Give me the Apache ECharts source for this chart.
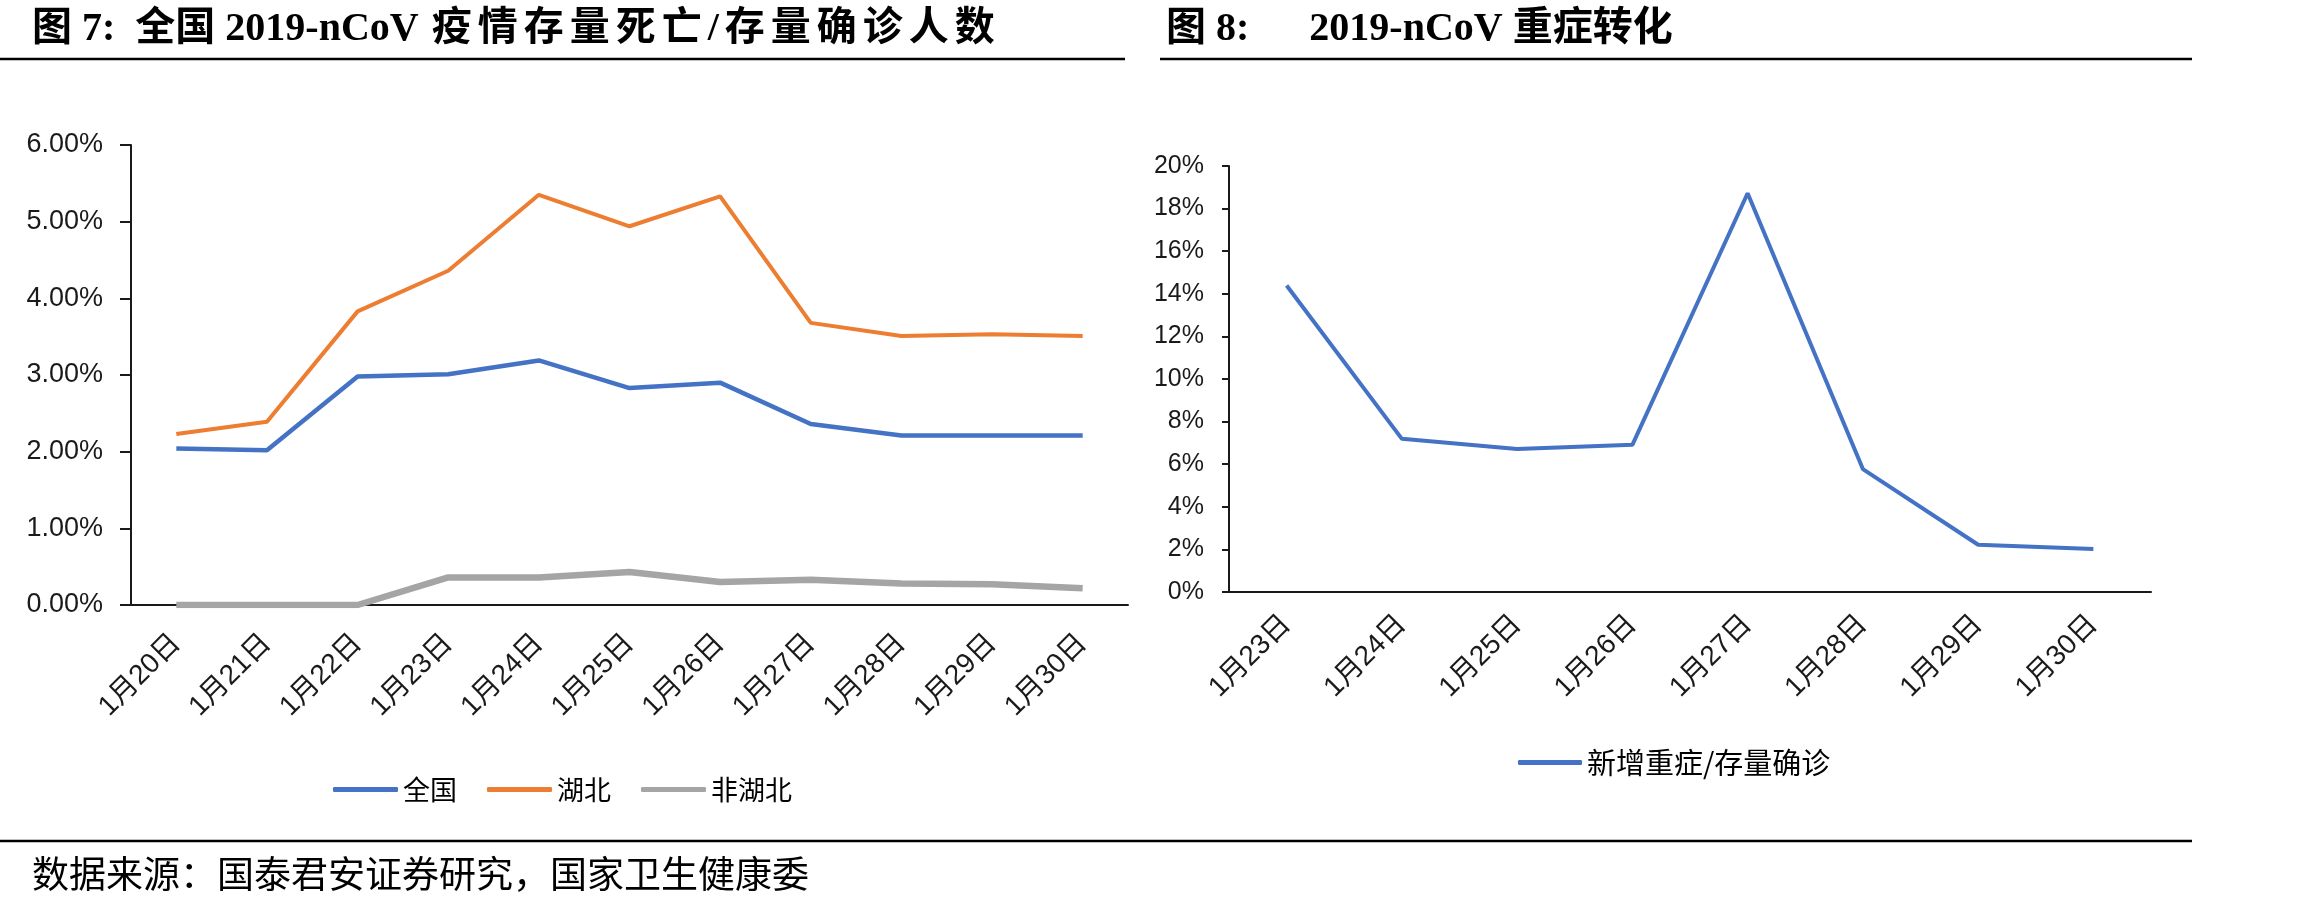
<!DOCTYPE html>
<html>
<head>
<meta charset="utf-8">
<script src="https://cdn.jsdelivr.net/npm/echarts@6/dist/echarts.min.js"></script>
<style>
  html, body { margin: 0; padding: 0; background: #fff; }
  #chart { width: 2314px; height: 908px; }
</style>
</head>
<body>
<div id="chart"></div>
<script>
// 图7 数据（%）
const leftDays = ['1月20日', '1月21日', '1月22日', '1月23日', '1月24日', '1月25日', '1月26日', '1月27日', '1月28日', '1月29日', '1月30日']
const nationRate = [2.04, 2.02, 2.98, 3.01, 3.19, 2.83, 2.90, 2.36, 2.21, 2.21, 2.21]
const hubeiRate = [2.23, 2.39, 3.83, 4.36, 5.35, 4.94, 5.33, 3.68, 3.51, 3.53, 3.51]
const outsideRate = [0, 0, 0, 0.36, 0.36, 0.43, 0.30, 0.33, 0.28, 0.27, 0.22]
const leftTicks = [0, 1, 2, 3, 4, 5, 6]

// 图8 数据（%）
const rightDays = ['1月23日', '1月24日', '1月25日', '1月26日', '1月27日', '1月28日', '1月29日', '1月30日']
const severeRate = [14.39, 7.19, 6.71, 6.91, 18.72, 5.77, 2.22, 2.02]
const rightTicks = [0, 2, 4, 6, 8, 10, 12, 14, 16, 18, 20]

const latin = '"Liberation Sans", "Noto Sans CJK SC", sans-serif'
const cjk = '"Noto Sans CJK SC", sans-serif'
const titleFont = '"Liberation Serif", "Noto Sans CJK SC", serif'
const ink = '#1a1a1a'

// 标题1后半段字距略宽，逐字加一点 padding
const spaced = s => s.split('').map(c => '{c|' + c + '}').join('')

const chart = echarts.init(document.getElementById('chart'))

function axisX(gridIndex, data, tickLen, margin) {
  return {
    type: 'category',
    gridIndex,
    data,
    axisLine: { lineStyle: { color: ink, width: 2 } },
    axisTick: { length: tickLen, lineStyle: { color: ink, width: 2 } },
    axisLabel: {
      rotate: 45,
      margin,
      color: ink,
      fontSize: 28,
      fontFamily: latin
    },
    splitLine: { show: false }
  }
}

function axisY(gridIndex, ticks, fmt, tickLen, margin, size) {
  return {
    type: 'value',
    gridIndex,
    min: ticks[0],
    max: ticks[ticks.length - 1],
    interval: ticks[1] - ticks[0],
    axisLine: { show: true, lineStyle: { color: ink, width: 2 } },
    axisTick: { show: true, length: tickLen, lineStyle: { color: ink, width: 2 } },
    axisLabel: { color: ink, fontSize: size, fontFamily: latin, margin, formatter: fmt },
    splitLine: { show: false }
  }
}

const titleStyle = { fontFamily: titleFont, fontWeight: 'bold', fontSize: 40, color: '#000' }

const option = {
  animation: false,
  backgroundColor: '#fff',
  title: [
    {
      text: '图 7:  全国 2019-nCoV ' + spaced('疫情存量死亡/存量确诊人数'),
      left: 27,
      top: 5,
      textStyle: Object.assign({}, titleStyle, {
        rich: { c: Object.assign({}, titleStyle, { padding: [0, 3, 0, 3] }) }
      })
    },
    {
      text: '图 8:      2019-nCoV 重症转化',
      left: 1161,
      top: 5,
      textStyle: titleStyle
    },
    {
      text: '数据来源：国泰君安证券研究，国家卫生健康委',
      left: 27,
      top: 850,
      textStyle: { fontFamily: cjk, fontWeight: 'normal', fontSize: 37, color: '#000' }
    }
  ],
  graphic: [
    { type: 'line', shape: { x1: 0, y1: 59, x2: 1125, y2: 59 }, style: { stroke: '#000', lineWidth: 2.5 } },
    { type: 'line', shape: { x1: 1160, y1: 59, x2: 2192, y2: 59 }, style: { stroke: '#000', lineWidth: 2.5 } },
    { type: 'line', shape: { x1: 0, y1: 841, x2: 2192, y2: 841 }, style: { stroke: '#000', lineWidth: 2.5 } }
  ],
  legend: [
    {
      left: 328,
      top: 771,
      icon: 'roundRect',
      itemWidth: 65,
      itemHeight: 5,
      itemGap: 30,
      textStyle: { fontFamily: cjk, fontSize: 27, color: '#000' },
      data: ['全国', '湖北', '非湖北']
    },
    {
      left: 1513,
      top: 743,
      icon: 'roundRect',
      itemWidth: 64,
      itemHeight: 5,
      textStyle: { fontFamily: cjk, fontSize: 29, color: '#000' },
      data: ['新增重症/存量确诊']
    }
  ],
  grid: [
    { left: 131, right: 1186, top: 145, bottom: 303 },
    { left: 1229, right: 163, top: 166, bottom: 316 }
  ],
  xAxis: [axisX(0, leftDays, 10, 34), axisX(1, rightDays, 9, 28)],
  yAxis: [
    axisY(0, leftTicks, v => v.toFixed(2) + '%', 11, 28, 27),
    axisY(1, rightTicks, v => v + '%', 7, 25, 25)
  ],
  series: [
    {
      name: '全国', type: 'line', xAxisIndex: 0, yAxisIndex: 0,
      symbol: 'none', data: nationRate,
      itemStyle: { color: '#4472C4' }, lineStyle: { color: '#4472C4', width: 4.5 }
    },
    {
      name: '湖北', type: 'line', xAxisIndex: 0, yAxisIndex: 0,
      symbol: 'none', data: hubeiRate,
      itemStyle: { color: '#ED7D31' }, lineStyle: { color: '#ED7D31', width: 4 }
    },
    {
      name: '非湖北', type: 'line', xAxisIndex: 0, yAxisIndex: 0,
      symbol: 'none', data: outsideRate,
      itemStyle: { color: '#A5A5A5' }, lineStyle: { color: '#A5A5A5', width: 6.5 }
    },
    {
      name: '新增重症/存量确诊', type: 'line', xAxisIndex: 1, yAxisIndex: 1,
      symbol: 'none', data: severeRate,
      itemStyle: { color: '#4472C4' }, lineStyle: { color: '#4472C4', width: 4 }
    }
  ]
}

chart.setOption(option)
</script>
</body>
</html>
